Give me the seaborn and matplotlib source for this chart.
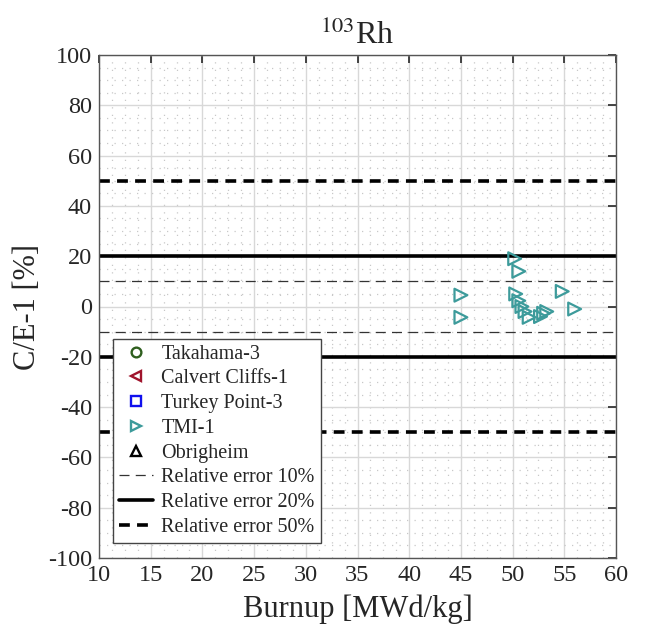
import matplotlib
matplotlib.use("Agg")
import matplotlib.pyplot as plt
import seaborn as sns
import numpy as np
import pandas as pd
from matplotlib.ticker import MultipleLocator
from matplotlib.lines import Line2D

sns.set_theme(style="white")
plt.rcParams['font.family'] = ['Liberation Serif', 'DejaVu Serif']
plt.rcParams['mathtext.fontset'] = 'stix'

# Data (only TMI-1 has points for 103Rh)
tmi_burnup = [45.0, 45.0, 50.2, 50.6, 50.3, 50.6, 50.9, 51.2, 51.6, 52.7, 53.0, 53.3, 54.8, 56.0]
tmi_ce = [4.5, -4.3, 19.0, 14.0, 5.0, 2.3, 0.0, -2.0, -4.3, -4.0, -2.7, -2.0, 6.0, -1.0]

series_names = ["Takahama-3", "Calvert Cliffs-1", "Turkey Point-3", "TMI-1", "Obrigheim"]
series_markers = ["o", "<", "s", ">", "^"]
series_colors = ["#2f5f1f", "#a0142c", "#1010ee", "#3d9b9b", "#000000"]

x_ticks = list(range(10, 61, 5))
y_ticks = list(range(-100, 101, 20))

df = pd.DataFrame({"Burnup": tmi_burnup, "CE": tmi_ce})

fig = plt.figure(figsize=(6.47, 6.32), dpi=100)
ax = fig.add_axes([99/647, 1 - 558/632, (616-99)/647, (558-55)/632])

ax.set_xlim(10, 60)
ax.set_ylim(-100, 100)
ax.xaxis.set_major_locator(MultipleLocator(5))
ax.xaxis.set_minor_locator(MultipleLocator(1.25))
ax.yaxis.set_major_locator(MultipleLocator(20))
ax.yaxis.set_minor_locator(MultipleLocator(5))
ax.grid(True, which="major", color="#d8d8d8", lw=1.0, ls="-")
ax.grid(True, which="minor", color="#c8c8c8", lw=0.9, ls=(0, (1, 5)))
ax.set_axisbelow(True)

# reference lines
for v in (10, -10):
    ax.axhline(v, color="#333333", lw=0.9, ls=(0, (8, 5)), zorder=2)
for v in (20, -20):
    ax.axhline(v, color="black", lw=2.6, ls="-", zorder=2)
for v in (50, -50):
    ax.axhline(v, color="black", lw=2.6, ls=(0, (3, 2)), zorder=2)

sns.scatterplot(data=df, x="Burnup", y="CE", ax=ax, marker=">", s=85,
                facecolors="none", edgecolor=series_colors[3], linewidths=1.6,
                legend=False, zorder=3)

ax.set_xticks(x_ticks)
ax.set_yticks(y_ticks)
ax.set_xticklabels([str(t) for t in x_ticks])
ax.set_yticklabels([str(t) for t in y_ticks])
ax.tick_params(which="both", direction="in", top=True, right=True, labelsize=17.5)
ax.tick_params(which="major", length=6, width=1.2, pad=5)
ax.tick_params(which="minor", length=0)
for s in ax.spines.values():
    s.set_color("#555555")
    s.set_linewidth(1.0)

ax.set_xlabel("Burnup [MWd/kg]", fontsize=22, labelpad=6)
ax.set_ylabel("C/E-1 [%]", fontsize=22, labelpad=4)
ax.set_title(r"$^{103}$Rh", fontsize=23, pad=8)

handles = []
for n, m, c in zip(series_names, series_markers, series_colors):
    handles.append(Line2D([], [], ls="none", marker=m, markersize=7,
                          markerfacecolor="none", markeredgecolor=c,
                          markeredgewidth=1.7, label=n))
handles.append(Line2D([], [], color="#333333", lw=0.9, ls=(0, (8, 5)), label="Relative error 10%"))
handles.append(Line2D([], [], color="black", lw=2.6, ls="-", label="Relative error 20%"))
handles.append(Line2D([], [], color="black", lw=2.6, ls=(0, (3, 2)), label="Relative error 50%"))

leg = ax.legend(handles=handles, loc="lower left", bbox_to_anchor=(0.027, 0.03),
                fontsize=14.5, frameon=True, fancybox=False, edgecolor="#444444",
                framealpha=1, borderpad=0.3, labelspacing=0.28, handlelength=1.7,
                handletextpad=0.4, borderaxespad=0.0)
leg.get_frame().set_linewidth(1.0)

fig.savefig("out.png", dpi=100)
